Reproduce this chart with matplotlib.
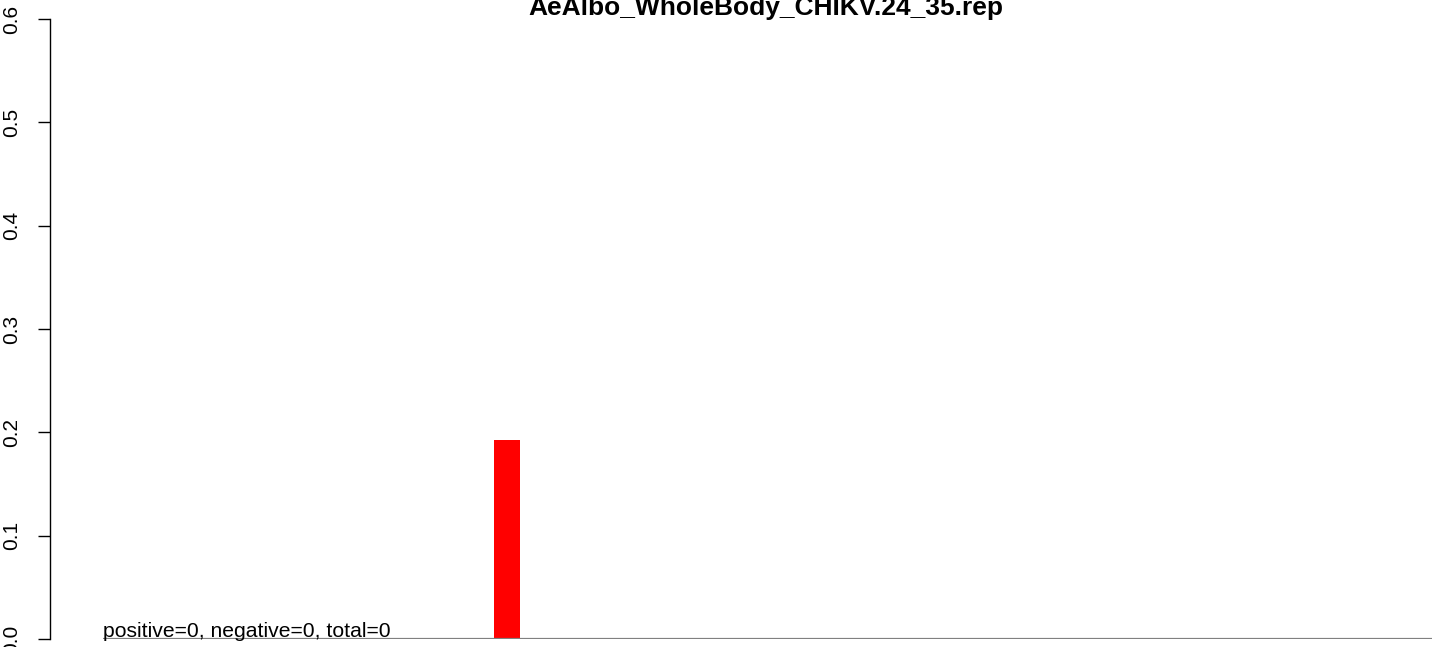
import numpy as np
import matplotlib
matplotlib.use("Agg")
import matplotlib.pyplot as plt

plt.rcParams['font.family'] = ['Liberation Sans', 'DejaVu Sans']

# overlap length vs. fraction (only the 10-nt overlap bar is non-zero)
title = "AeAlbo_WholeBody_CHIKV.24_35.rep"
overlap = np.arange(1, 32)
fraction = np.zeros(len(overlap))
fraction[overlap == 10] = 0.193
summary = "positive=0, negative=0, total=0"
y_ticks = [0.0, 0.1, 0.2, 0.3, 0.4, 0.5, 0.6]

bar_w = 0.615

fig = plt.figure(figsize=(14.44, 6.47), dpi=100)
ax = fig.add_axes([50 / 1444, 8 / 647, 1394 / 1444, 620 / 647])

colors = ['red' if v > 0 else 'white' for v in fraction]
ax.bar(overlap, fraction, width=bar_w, color=colors, linewidth=0, zorder=2)
# zero line across all bars
ax.hlines(0, overlap[0] - bar_w / 2, overlap[-1] + bar_w / 2,
          color='#808080', linewidth=1.6, zorder=3)

ax.set_xlim(-0.53, 31.59)
ax.set_ylim(0, 0.6)

for s in ['top', 'right', 'bottom']:
    ax.spines[s].set_visible(False)
ax.spines['left'].set_bounds(0, 0.6)
ax.spines['left'].set_linewidth(1.0)
ax.set_xticks([])
ax.set_yticks(y_ticks)
ax.set_yticklabels(["%.1f" % t for t in y_ticks], rotation=90, va='center',
                   fontsize=15)
ax.tick_params(axis='y', length=8.6, width=1.0, pad=12)

ax.text(overlap[0] - bar_w / 2, 0.002, summary, ha='left', va='baseline',
        fontsize=15.2, zorder=4)

fig.text(766 / 1444, 1 - 15 / 647, title, ha='center', va='baseline',
         fontsize=19, fontweight='bold')

fig.savefig("out.png", dpi=100)
